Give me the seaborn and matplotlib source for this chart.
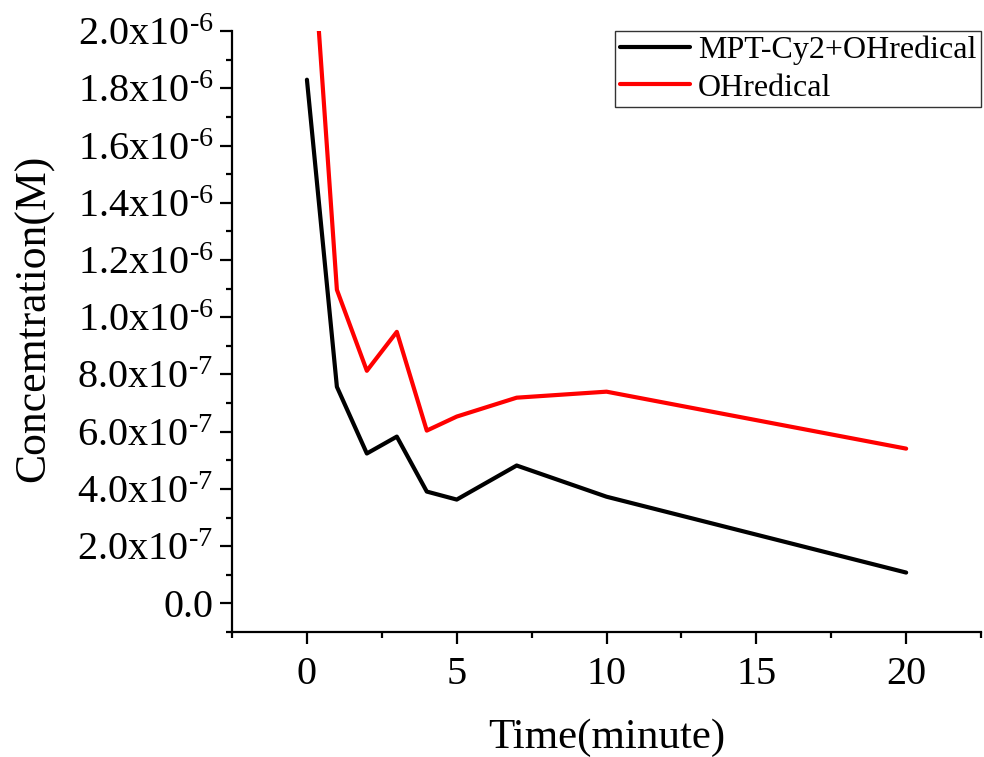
import numpy as np
import pandas as pd
import matplotlib
matplotlib.use("Agg")
import matplotlib.pyplot as plt
import seaborn as sns
from matplotlib.ticker import MultipleLocator, FuncFormatter

# ---- data ----
time_min = [0, 1, 2, 3, 4, 5, 7, 10, 20]
mpt_cy2_oh = [1.83e-6, 7.57e-7, 5.24e-7, 5.83e-7, 3.91e-7, 3.63e-7, 4.82e-7, 3.73e-7, 1.08e-7]
oh_radical = [2.60e-6, 1.096e-6, 8.13e-7, 9.49e-7, 6.04e-7, 6.53e-7, 7.19e-7, 7.40e-7, 5.41e-7]
series_names = ["MPT-Cy2+OHredical", "OHredical"]
series_colors = ["#000000", "#ff0000"]

df = pd.DataFrame({
    "Time": time_min * 2,
    "Conc": mpt_cy2_oh + oh_radical,
    "Series": [series_names[0]] * len(time_min) + [series_names[1]] * len(time_min),
})

sns.set_style("ticks")
plt.rcParams["font.family"] = ["Liberation Serif", "DejaVu Serif"]
plt.rcParams["mathtext.fontset"] = "custom"
plt.rcParams["mathtext.rm"] = "Liberation Serif"
plt.rcParams["mathtext.it"] = "Liberation Serif:italic"
plt.rcParams["mathtext.bf"] = "Liberation Serif:bold"
plt.rcParams["text.color"] = "black"
plt.rcParams["axes.labelcolor"] = "black"

fig = plt.figure(figsize=(9.84, 7.57), dpi=100)
ax = fig.add_axes([0.2358, 0.165, 0.7612, 0.794])

sns.lineplot(data=df, x="Time", y="Conc", hue="Series", hue_order=series_names,
             palette=dict(zip(series_names, series_colors)), linewidth=3,
             ax=ax, legend=True)

ax.set_xlim(-2.5, 22.5)
ax.set_ylim(-1e-7, 2.0e-6)
ax.xaxis.set_major_locator(MultipleLocator(5))
ax.xaxis.set_minor_locator(MultipleLocator(2.5))
ax.yaxis.set_major_locator(MultipleLocator(2e-7))
ax.yaxis.set_minor_locator(MultipleLocator(1e-7))

HYPHEN = "\u2010"


def yfmt(v, pos):
    if abs(v) < 1e-12:
        return "0.0"
    e = int(np.floor(np.log10(abs(v)) + 1e-9))
    m = v / 10 ** e
    return "$\\mathregular{%.1fx10^{" % m + HYPHEN + "%d}}$" % (-e)


def xfmt(v, pos):
    return "%d" % round(v)


ax.yaxis.set_major_formatter(FuncFormatter(yfmt))
ax.xaxis.set_major_formatter(FuncFormatter(xfmt))

for s in ["top", "right"]:
    ax.spines[s].set_visible(False)
for s in ["left", "bottom"]:
    ax.spines[s].set_linewidth(1.6)
    ax.spines[s].set_color("black")

ax.tick_params(which="major", direction="out", length=8.5, width=1.6, labelsize=29,
               colors="black", pad=5)
ax.tick_params(which="minor", direction="out", length=4.5, width=1.6, colors="black")
ax.tick_params(axis="x", which="major", pad=9)

ax.set_xlabel("Time(minute)", fontsize=31, labelpad=18)
ax.set_ylabel("Concemtration(M)", fontsize=31.5)
ax.yaxis.set_label_coords(-0.238, 0.522)

leg = ax.legend(loc="upper right", bbox_to_anchor=(1.0, 1.0), fontsize=23,
                frameon=True, fancybox=False, edgecolor="black", facecolor="none",
                handlelength=2.2, handletextpad=0.25, borderpad=0.15, labelspacing=0.25,
                borderaxespad=0.0)
leg.get_frame().set_linewidth(1.0)
for line in leg.get_lines():
    line.set_linewidth(3)

fig.savefig("out.png", dpi=100)
